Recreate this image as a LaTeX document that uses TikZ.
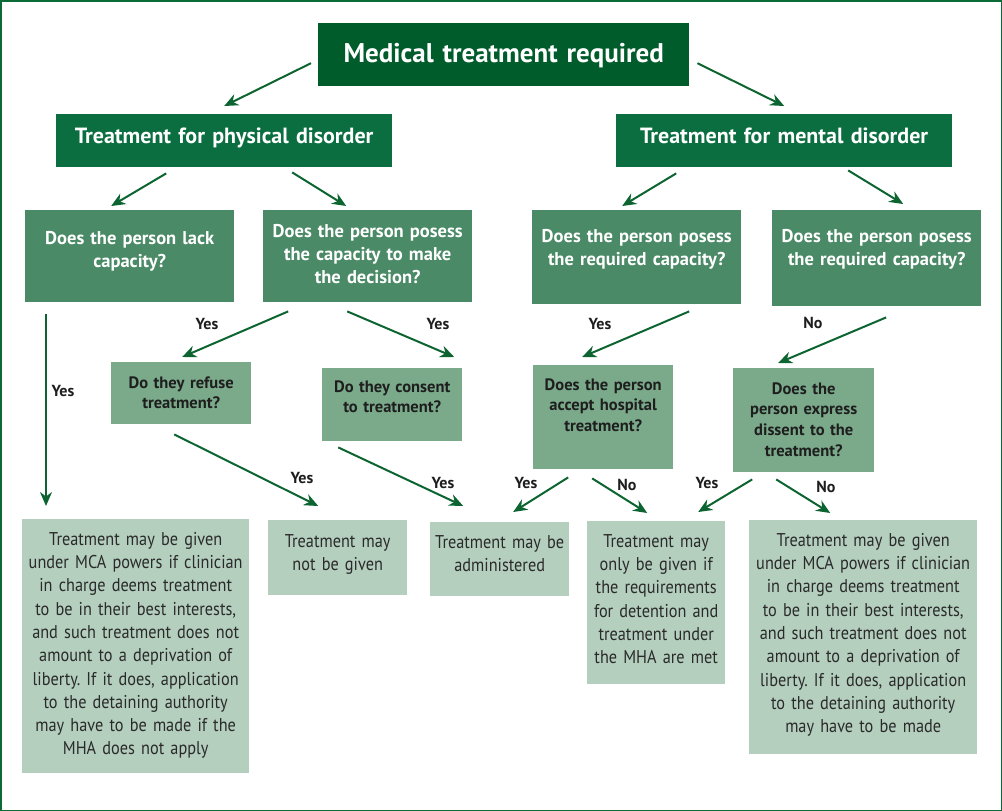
\documentclass[tikz,border=0pt]{standalone}
\usepackage{fontspec}
\setmainfont{PT Sans}
\newfontfamily\narrowfont[FakeStretch=0.88]{PT Sans}
\newfontfamily\headfont{PT Sans}
\usepackage{tikz}
\usetikzlibrary{arrows.meta}
\usetikzlibrary{positioning}
\frenchspacing
\hyphenpenalty=10000

\definecolor{topgreen}{RGB}{0,92,43}
\definecolor{sidegreen}{RGB}{10,110,64}
\definecolor{askgreen}{RGB}{74,138,102}
\definecolor{checkgreen}{RGB}{123,170,139}
\definecolor{endgreen}{RGB}{180,207,190}
\definecolor{arrowgreen}{RGB}{12,100,48}
\definecolor{framegreen}{RGB}{11,107,55}
\definecolor{darktext}{RGB}{30,30,30}
\definecolor{greytext}{RGB}{42,42,42}

\begin{document}
\begin{tikzpicture}
    [
    x=1pt, y=-1pt,
    box/.style={anchor=north west, inner xsep=4pt, inner ysep=0pt, align=center},
    topbox/.style={box, fill=topgreen, text=white,
      font=\headfont\bfseries\fontsize{27}{30}\selectfont},
    sidebox/.style={box, fill=sidegreen, text=white,
      font=\headfont\bfseries\fontsize{22}{25}\selectfont},
    askbox/.style={box, fill=askgreen, text=white,
      font=\headfont\bfseries\fontsize{18.5}{23}\selectfont},
    checkbox/.style={box, fill=checkgreen, text=darktext,
      font=\headfont\bfseries\fontsize{16.5}{20.6}\selectfont},
    endbox/.style={box, inner xsep=0pt, fill=endgreen, text=greytext,
      font=\narrowfont\fontsize{18.5}{23.3}\selectfont},
    answer/.style={inner sep=0pt, text=darktext,
      font=\headfont\bfseries\fontsize{16}{18}\selectfont},
    arrow/.style={draw=arrowgreen, line width=2pt, -{Stealth[length=14pt,width=12pt]}}
    ]
    \useasboundingbox (0,0) rectangle (1002,811);
    \draw [framegreen, line width=1.5pt] (0.75,0.75) rectangle (1001.25,810.25);

    % first two levels
    \node (top) at (318,23) [topbox, text width=363pt, text height=39pt, text depth=24pt]
      {Medical treatment required};
    \node (phys) at (56,114) [sidebox, text width=328pt, text height=29pt, text depth=24pt]
      {Treatment for physical disorder};
    \node (ment) at (616,114) [sidebox, text width=328pt, text height=29pt, text depth=24pt]
      {Treatment for mental disorder};
    \draw [arrow] ([shift={(-7,8.5)}]top.west) to ([shift={(0,-8)}]phys.north);
    \draw [arrow] ([shift={(8,8.5)}]top.east) to ([shift={(0,-8)}]ment.north);

    % questions
    \node (lack) at (25,210) [askbox, text width=201pt, text height=34.5pt, text depth=57.5pt]
      {Does the person lack\\capacity?};
    \node (poss) at (263,210) [askbox, text width=201pt, text height=27pt, text depth=65pt]
      {Does the person posess\\the capacity to make\\the decision?};
    \node (req1) at (532,210) [askbox, text width=201pt, text height=32pt, text depth=62pt]
      {Does the person posess\\the required capacity?};
    \node (req2) at (772,210) [askbox, text width=201pt, text height=32pt, text depth=64pt]
      {Does the person posess\\the required capacity?};
    \draw [arrow] ([shift={(-58,6)}]phys.south) to ([shift={(-18.5,-4)}]lack.north);
    \draw [arrow] ([shift={(68,5)}]phys.south) to ([shift={(-21.5,-4)}]poss.north);
    \draw [arrow] ([shift={(-108,6)}]ment.south) to ([shift={(-14.5,-4)}]req1.north);
    \draw [arrow] ([shift={(64,3)}]ment.south) to ([shift={(26.5,-6)}]req2.north);

    \node (refuse) at (111,362) [checkbox, text width=132pt, text height=26pt, text depth=36pt]
      {Do they refuse\\treatment?};
    \node (consent) at (322,368) [checkbox, text width=132pt, text height=24pt, text depth=49pt]
      {Do they consent\\to treatment?};
    \node (accept) at (533,365) [checkbox, text width=132pt, text height=25pt, text depth=79pt]
      {Does the person\\accept hospital\\treatment?};
    \node (dissent) at (733,368) [checkbox, text width=133pt, text height=26pt, text depth=78pt]
      {Does the\\person express\\dissent to the\\treatment?};
    \draw [arrow] ([shift={(-79.5,9)}]poss.south) to ([shift={(1,-5)}]refuse.north);
    \draw [arrow] ([shift={(-20.5,9)}]poss.south) to ([shift={(62,-11)}]consent.north);
    \draw [arrow] ([shift={(52.5,7)}]req1.south) to ([shift={(-21,-8)}]accept.north);
    \draw [arrow] ([shift={(9.5,11)}]req2.south) to ([shift={(-25.5,-5)}]dissent.north);
    \node (yes1) at (207,324) [answer] {Yes};
    \node (yes2) at (438,324) [answer] {Yes};
    \node (yes3) at (600,324) [answer] {Yes};
    \node (no1) at (813,323) [answer] {No};

    % outcomes
    \node (leafA) at (22,519) [endbox, text width=227pt, text height=26pt, text depth=228pt]
      {Treatment may be given\\under MCA powers if clinician\\in charge deems treatment\\to be in their best interests,\\and such treatment does not\\amount to a deprivation of\\liberty. If it does, application\\to the detaining authority\\may have to be made if the\\MHA does not apply};
    \node (notgiven) at (268,520) [endbox, text width=139pt, text height=27pt, text depth=48pt]
      {Treatment may\\not be given};
    \node (admin) at (430,522) [endbox, text width=139pt, text height=26pt, text depth=48pt]
      {Treatment may be\\administered};
    \node (only) at (587,521) [endbox, text width=138pt, text height=26pt, text depth=137pt]
      {Treatment may\\only be given if\\the requirements\\for detention and\\treatment under\\the MHA are met};
    \node (leafB) at (749,520) [endbox, text width=228pt, text height=26pt, text depth=208pt]
      {Treatment may be given\\under MCA powers if clinician\\in charge deems treatment\\to be in their best interests,\\and such treatment does not\\amount to a deprivation of\\liberty. If it does, application\\to the detaining authority\\may have to be made};
    \draw [arrow] ([shift={(21,12)}]lack.south west) to ([shift={(24,-13)}]leafA.north west);
    \draw [arrow] ([shift={(-7,10)}]refuse.south) to ([shift={(-19.5,-14)}]notgiven.north);
    \draw [arrow] ([shift={(-54,6)}]consent.south) to ([shift={(-36.5,-16)}]admin.north);
    \draw [arrow] ([shift={(-35,8)}]accept.south) to ([shift={(13.5,-10)}]admin.north);
    \draw [arrow] ([shift={(-11,9)}]accept.south) to ([shift={(-9,-8)}]only.north);
    \draw [arrow] ([shift={(-51.5,7)}]dissent.south) to ([shift={(42,-9)}]only.north);
    \draw [arrow] ([shift={(-27.5,7)}]dissent.south) to ([shift={(-33,-7)}]leafB.north);
    \node (yes4) at (63,391) [answer] {Yes};
    \node (yes5) at (302,478) [answer] {Yes};
    \node (yes6) at (443,483) [answer] {Yes};
    \node (yes7) at (526,483) [answer] {Yes};
    \node (no2) at (627,485) [answer] {No};
    \node (yes8) at (707,483) [answer] {Yes};
    \node (no3) at (826,487) [answer] {No};
  \end{tikzpicture}
\end{document}
